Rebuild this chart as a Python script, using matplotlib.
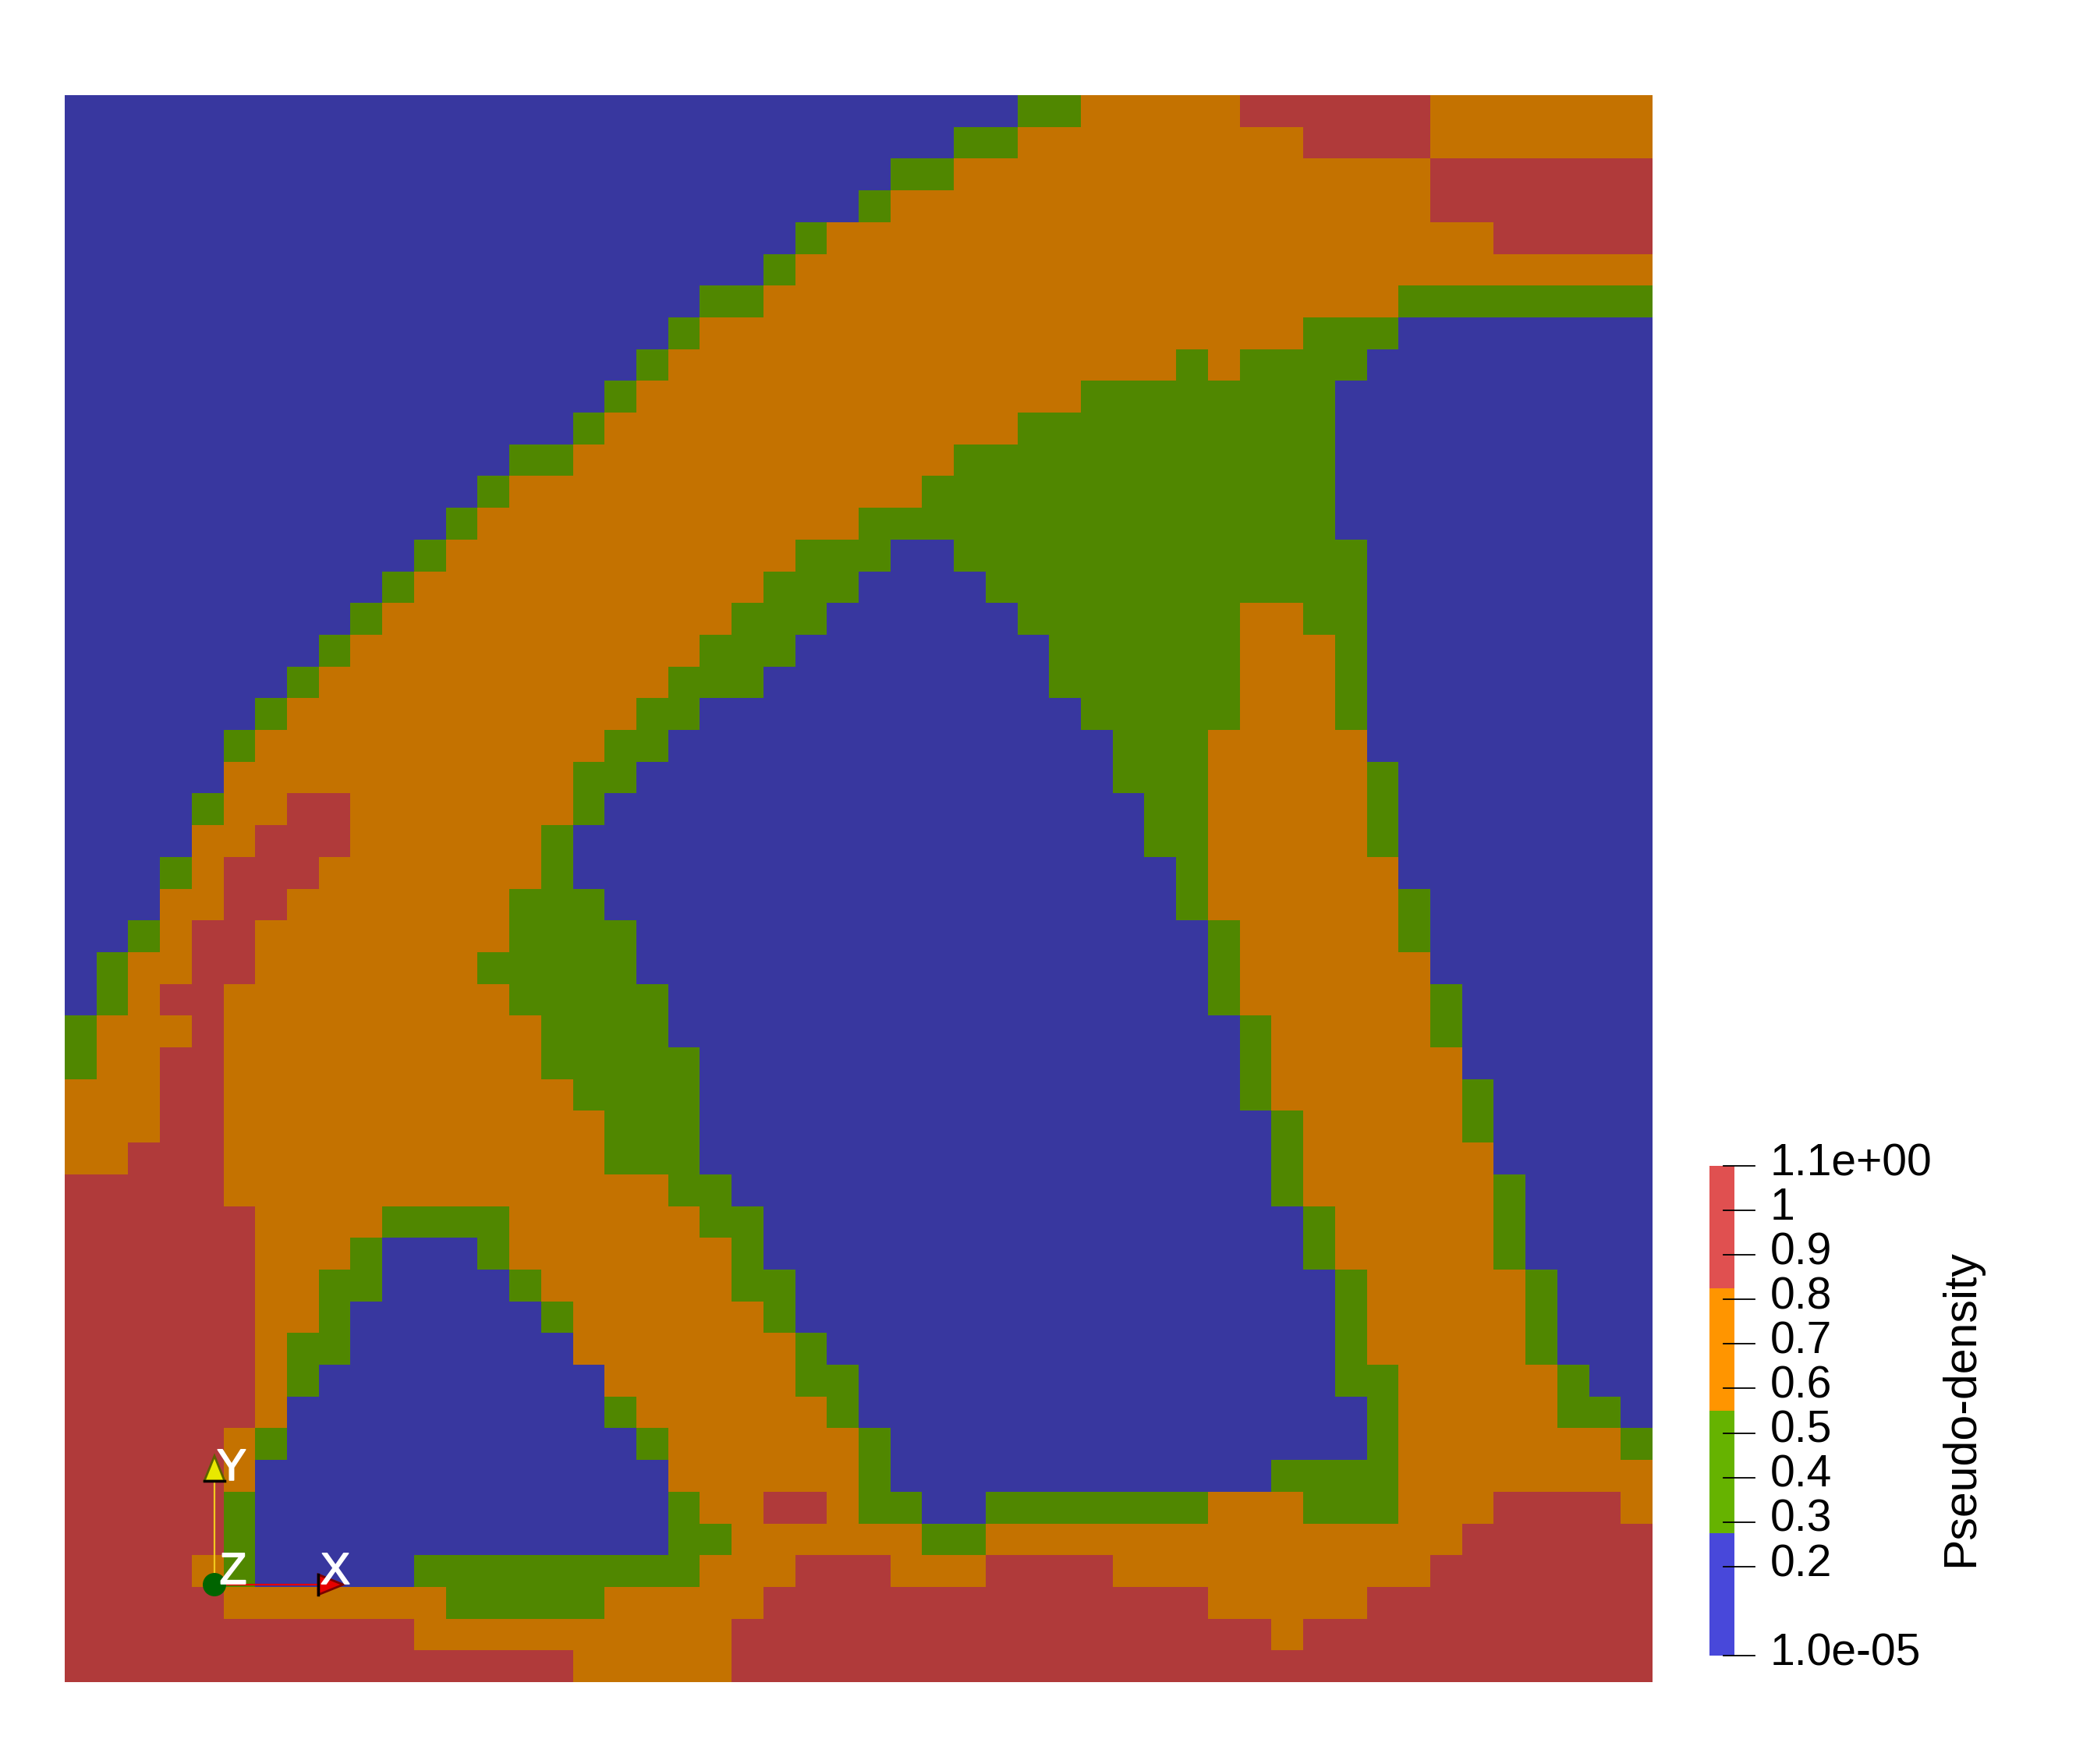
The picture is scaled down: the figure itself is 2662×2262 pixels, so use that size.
#!/usr/bin/env python3

import matplotlib
matplotlib.use('Agg')
import matplotlib.pyplot as plt
import matplotlib.patheffects as effects
import numpy as np
from matplotlib.colors import BoundaryNorm, ListedColormap
from matplotlib.patches import Circle, Polygon

################################################################################

# each row of the 50x50 density field, top row first
# a run is written as band letter + first column of that run
density_rows = [
	'b0 g30 o32 r37 o43',
	'b0 g28 o30 r39 o43',
	'b0 g26 o28 r43',
	'b0 g25 o26 r43',
	'b0 g23 o24 r45',
	'b0 g22 o23',
	'b0 g20 o22 g42',
	'b0 g19 o20 g39 b42',
	'b0 g18 o19 g35 o36 g37 b41',
	'b0 g17 o18 g32 b40',
	'b0 g16 o17 g30 b40',
	'b0 g14 o16 g28 b40',
	'b0 g13 o14 g27 b40',
	'b0 g12 o13 g25 b40',
	'b0 g11 o12 g23 b26 g28 b41',
	'b0 g10 o11 g22 b25 g29 b41',
	'b0 g9 o10 g21 b24 g30 o37 g39 b41',
	'b0 g8 o9 g20 b23 g31 o37 g40 b41',
	'b0 g7 o8 g19 b22 g31 o37 g40 b41',
	'b0 g6 o7 g18 b20 g32 o37 g40 b41',
	'b0 g5 o6 g17 b19 g33 o36 b41',
	'b0 o5 g16 b18 g33 o36 g41 b42',
	'b0 g4 o5 r7 o9 g16 b17 g34 o36 g41 b42',
	'b0 o4 r6 o9 g15 b16 g34 o36 g41 b42',
	'b0 g3 o4 r5 o8 g15 b16 g35 o36 b42',
	'b0 o3 r5 o7 g14 b17 g35 o36 g42 b43',
	'b0 g2 o3 r4 o6 g14 b18 g36 o37 g42 b43',
	'b0 g1 o2 r4 o6 g13 b18 g36 o37 b43',
	'b0 g1 o2 r3 o5 g14 b19 g36 o37 g43 b44',
	'g0 o1 r4 o5 g15 b19 g37 o38 g43 b44',
	'g0 o1 r3 o5 g15 b20 g37 o38 b44',
	'o0 r3 o5 g16 b20 g37 o38 g44 b45',
	'o0 r3 o5 g17 b20 g38 o39 g44 b45',
	'o0 r2 o5 g17 b20 g38 o39 b45',
	'r0 o5 g19 b21 g38 o39 g45 b46',
	'r0 o6 g10 o14 g20 b22 g39 o40 g45 b46',
	'r0 o6 g9 b10 g13 o14 g21 b22 g39 o40 g45 b46',
	'r0 o6 g8 b10 g14 o15 g21 b23 g40 o41 g46 b47',
	'r0 o6 g8 b9 g15 o16 g22 b23 g40 o41 g46 b47',
	'r0 o6 g7 b9 o16 g23 b24 g40 o41 g46 b47',
	'r0 o6 g7 b8 o17 g23 b25 g40 o42 g47 b48',
	'r0 o6 b7 g17 o18 g24 b25 g41 o42 g47 b49',
	'r0 o5 g6 b7 g18 o19 g25 b26 g41 o42 g49',
	'r0 o5 b6 o19 g25 b26 g38 o42',
	'r0 g5 b6 g19 o20 r22 o24 g25 b27 g29 o36 g39 o42 r45 o49',
	'r0 g5 b6 g19 o21 g27 o29 r44',
	'r0 o4 g5 b6 g11 o20 r23 o26 r29 o33 r43',
	'r0 o5 g12 o17 r22 o36 r41',
	'r0 o11 r21 o38 r39',
	'r0 o16 r21',
]

# representative value for each band
band_values = {'b': 0.14, 'g': 0.41, 'o': 0.69, 'r': 0.96}
band_edges = [1e-5, 0.275, 0.55, 0.825, 1.1]

# the surface is lit, so it is darker than the colour bar
surface_colours = ['#38379f', '#508700', '#c47200', '#b03a3a']
legend_colours = ['#4848da', '#66b300', '#ff9500', '#e05050']

tick_values = [1.1, 1.0, 0.9, 0.8, 0.7, 0.6, 0.5, 0.4, 0.3, 0.2, 1e-5]
tick_labels = ['1.1e+00', '1', '0.9', '0.8', '0.7', '0.6', '0.5', '0.4', '0.3', '0.2', '1.0e-05']
colourbar_title = 'Pseudo-density'

WIDTH = 2662
HEIGHT = 2262
DPI = 100

################################################################################

def decode_rows(rows, columns = 50):
	'''Turn the run lists into a 2D array of band values.'''

	field = np.zeros((len(rows), columns))
	for i, row in enumerate(rows):
		runs = row.split()
		starts = [int(run[1 :]) for run in runs]
		stops = starts[1 :] + [columns]
		for run, start, stop in zip(runs, starts, stops):
			field[i, start : stop] = band_values[run[0]]
	return field

################################################################################

def pixel_axes(fig, left, top, right, bottom):
	'''Add axes whose box is given in image pixels.'''

	return fig.add_axes([left / WIDTH, 1 - bottom / HEIGHT, (right - left) / WIDTH, (bottom - top) / HEIGHT])

################################################################################

def draw_orientation_axes(fig):
	'''The small XYZ marker in the corner of the view.'''

	ax = fig.add_axes([0, 0, 1, 1])
	ax.set_xlim(0, WIDTH)
	ax.set_ylim(HEIGHT, 0)
	ax.axis('off')
	ax.patch.set_alpha(0)

	ax.plot([275, 275], [2032, 1899], color = '#f2c81e', linewidth = 1.6, zorder = 2)
	ax.plot([275, 410], [2032, 2032], color = '#e60000', linewidth = 1.6, zorder = 2)

	ax.add_patch(Polygon([[262, 1899], [288, 1899], [275, 1867]], facecolor = '#e8e800', edgecolor = '#5e6000', linewidth = 2, zorder = 3))
	ax.plot([262, 288], [1899, 1899], color = 'black', linewidth = 2.5, zorder = 4)
	ax.add_patch(Polygon([[408, 2019], [408, 2045], [440, 2032]], facecolor = '#e60000', edgecolor = '#7a0000', linewidth = 2, zorder = 3))
	ax.plot([408, 408], [2019, 2045], color = 'black', linewidth = 2.5, zorder = 4)
	ax.add_patch(Circle((275, 2032), 15, facecolor = '#006400', edgecolor = 'none', zorder = 5))

	for label, x, y in [('Y', 297, 1883), ('Z', 299, 2016), ('X', 430, 2016)]:
		text = ax.text(x, y, label, color = 'white', fontsize = 41, family = 'Liberation Sans', ha = 'center', va = 'center', zorder = 6)
		text.set_path_effects([effects.withStroke(linewidth = 1.2, foreground = 'white')])

################################################################################

def main():

	fig = plt.figure(figsize = (WIDTH / DPI, HEIGHT / DPI), dpi = DPI, facecolor = 'white')
	norm = BoundaryNorm(band_edges, 4)

	# the density field itself
	field = decode_rows(density_rows)
	ax = pixel_axes(fig, 83, 122, 2119, 2157)
	ax.pcolormesh(np.arange(51), np.arange(51), field, cmap = ListedColormap(surface_colours), norm = norm, edgecolors = 'none')
	ax.set_xlim(0, 50)
	ax.set_ylim(50, 0)
	ax.axis('off')

	# colour bar, its ticks start inside the bar
	cax = pixel_axes(fig, 2192, 1495, 2224, 2123)
	levels = np.array(band_edges)
	cax.pcolormesh([0, 1], levels, np.array(band_edges[: -1]).reshape(-1, 1) + 0.01, cmap = ListedColormap(legend_colours), norm = norm, edgecolors = 'none')
	cax.set_ylim(1e-5, 1.1)
	cax.set_xlim(0, 1)
	cax.axis('off')
	for value, label in zip(tick_values, tick_labels):
		cax.plot([0.56, 1.8], [value, value], color = 'black', linewidth = 1.3, clip_on = False, transform = cax.get_yaxis_transform())
		cax.annotate(label, xy = (2.44, value), xycoords = cax.get_yaxis_transform(), xytext = (0, 2), textcoords = 'offset points',
			fontsize = 41, family = 'Liberation Sans', color = 'black', ha = 'left', va = 'center')

	fig.text(2515 / WIDTH, 1 - 1806 / HEIGHT, colourbar_title, rotation = 90, fontsize = 42.5, family = 'Liberation Sans', color = 'black', ha = 'center', va = 'center')

	draw_orientation_axes(fig)

	fig.savefig('out.png', dpi = DPI)

################################################################################

if __name__ == '__main__':
	main()
